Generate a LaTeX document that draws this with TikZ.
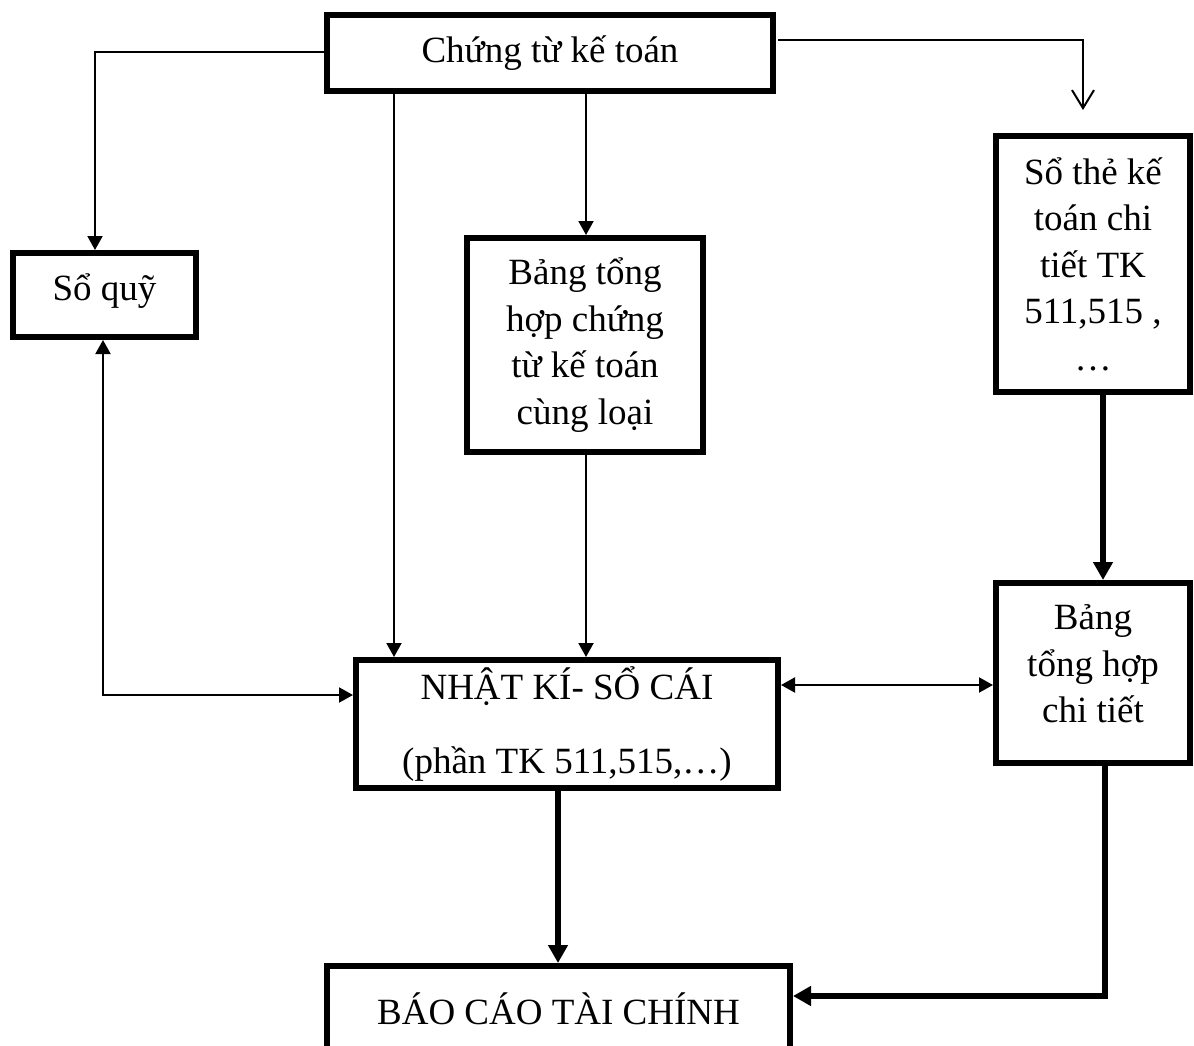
\documentclass[tikz,border=0pt]{standalone}
\usepackage{fontspec}
\setmainfont{Liberation Serif}
\usetikzlibrary{arrows.meta,calc}

\tikzset{
  box/.style={draw, line width=6pt, inner sep=0pt, align=center,
    font=\fontsize{37}{46.5}\selectfont},
  boxtext/.style={inner sep=0pt, align=center, font=\fontsize{37}{46.5}\selectfont},
  thinline/.style={line width=2pt},
  thickline/.style={line width=6pt},
  tipthin/.style={-{Triangle[length=14pt,width=15pt]}},
  tipboth/.style={{Triangle[length=14pt,width=15pt]}-{Triangle[length=14pt,width=15pt]}},
  tipthick/.style={-{Triangle[length=18pt,width=19pt]}},
  tipopen/.style={-{Straight Barb[length=18pt,width=22pt,line width=2pt]}}
}

\begin{document}
\begin{tikzpicture}[x=1pt,y=-1pt]
  \clip (0,0) rectangle (1194,1046);
  \fill[white] (0,0) rectangle (1194,1046);

  % boxes
  \node[box, minimum width=446pt, minimum height=76pt] (ct) at (550,53) {Chứng từ kế toán};
  \node[box, minimum width=183pt, minimum height=84pt] (sq) at (104.5,295) {};
  \node[boxtext] (sqtext) at (104.5,291) {Sổ quỹ};
  \node[box, minimum width=236pt, minimum height=214pt] (bg) at (585,345)
    {Bảng tổng\\hợp chứng\\từ kế toán\\cùng loại};
  \node[box, minimum width=194pt, minimum height=256pt] (st) at (1093,264)
    {Sổ thẻ kế\\toán chi\\tiết TK\\511,515 ,\\…};
  \node[box, minimum width=194pt, minimum height=180pt] (bct) at (1093,673) {};
  \node[boxtext] (bcttext) at (1093,664) {Bảng\\tổng hợp\\chi tiết};
  \node[box, minimum width=422pt, minimum height=128pt] (nk) at (567,724)
    {NHẬT KÍ- SỔ CÁI\\[27pt](phần TK 511,515,…)};
  \node[box, minimum width=463pt, minimum height=94pt] (bc) at (558.5,1013) {};
  \node[boxtext] (bctext) at (558.5,1009) {BÁO CÁO TÀI CHÍNH};

  % bend points and line positions
  \coordinate (l1) at (95,52);
  \coordinate (r1) at (1083,40);
  \coordinate (r2) at (1083,110);
  \coordinate (v1) at (394,0);
  \coordinate (v2) at (586,0);
  \coordinate (q1) at (103,695);
  \coordinate (h1) at (0,685);
  \coordinate (t1) at (1103,0);
  \coordinate (t2) at (1105,996);
  \coordinate (v3) at (558,0);

  % thin connectors
  \draw[thinline, tipthin] (ct.west |- l1) -- (l1) -- (l1 |- sq.north);
  \draw[thinline, tipopen] ($(ct.east |- r1)+(2,0)$) -- (r1) -- (r2);
  \draw[thinline, tipthin] (ct.south -| v1) -- (nk.north -| v1);
  \draw[thinline, tipthin] (ct.south -| v2) -- (bg.north -| v2);
  \draw[thinline, tipthin] (bg.south -| v2) -- (nk.north -| v2);
  \draw[thinline, tipboth] (sq.south -| q1) -- (q1) -- (nk.west |- q1);
  \draw[thinline, tipboth] (nk.east |- h1) -- (bct.west |- h1);

  % thick connectors
  \draw[thickline, tipthick] (st.south -| t1) -- (bct.north -| t1);
  \draw[thickline, tipthick] (nk.south -| v3) -- (bc.north -| v3);
  \draw[thickline, tipthick] (bct.south -| t2) -- (t2) -- (bc.east |- t2);
\end{tikzpicture}
\end{document}
